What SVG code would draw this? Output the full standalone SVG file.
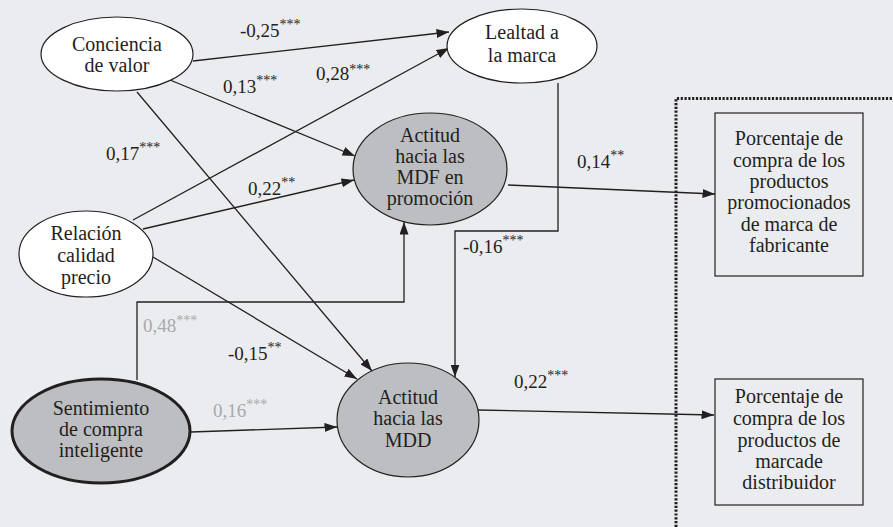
<svg xmlns="http://www.w3.org/2000/svg" width="893" height="527" viewBox="0 0 893 527" font-family="'Liberation Serif', 'DejaVu Serif', 'Times New Roman', serif">
<defs>
<style>
.bg{fill:#ebecef}
.node{stroke:#231f20;stroke-width:1.2}
.white{fill:#ffffff}
.gray{fill:#bdbec1}
.thick{stroke-width:3}
.box{fill:none;stroke:#231f20;stroke-width:1.2}
.t{font-size:20px;fill:#231f20;text-anchor:middle}
.lbl{font-size:19px;fill:#231f20}
.lg{fill:#a7a9ac}
.sup{font-size:14px}
.edge{fill:none;stroke:#231f20;stroke-width:1.3}
.dots{fill:none;stroke:#231f20;stroke-width:3;stroke-dasharray:2.2 1.6}
</style>
<marker id="arr" markerUnits="userSpaceOnUse" markerWidth="13" markerHeight="9" refX="12.5" refY="4.5" orient="auto">
<path d="M0,0 L12.5,4.5 L0,9 z" fill="#231f20"/>
</marker>
</defs>
<rect class="bg" x="0" y="0" width="893" height="527"/>

<path class="dots" d="M676,527 L676,98.5 L893,98.5"/>

<g id="connectors">
<path class="edge" marker-end="url(#arr)" d="M193,61 L449,32"/>
<path class="edge" marker-end="url(#arr)" d="M133,220 L449,48"/>
<path class="edge" marker-end="url(#arr)" d="M170,80 L355,156"/>
<path class="edge" marker-end="url(#arr)" d="M143,229 L354,180"/>
<path class="edge" marker-end="url(#arr)" d="M137,92 L372,371"/>
<path class="edge" marker-end="url(#arr)" d="M153,257 L357,379"/>
<path class="edge" marker-end="url(#arr)" d="M137,380 L137,302 L404,302 L404,222"/>
<path class="edge" marker-end="url(#arr)" d="M191,432 L337,427"/>
<path class="edge" marker-end="url(#arr)" d="M558,83 L558,231 L455,231 L455,377"/>
<path class="edge" marker-end="url(#arr)" d="M508,185 L715,194"/>
<path class="edge" marker-end="url(#arr)" d="M478,410 L714,415"/>

<text class="lbl" x="240" y="37">-0,25<tspan class="sup" dy="-8">***</tspan></text>
<text class="lbl" x="316" y="80">0,28<tspan class="sup" dy="-6">***</tspan></text>
<text class="lbl" x="223" y="93">0,13<tspan class="sup" dy="-8">***</tspan></text>
<text class="lbl" x="106" y="160">0,17<tspan class="sup" dy="-8">***</tspan></text>
<text class="lbl" x="248" y="195">0,22<tspan class="sup" dy="-8">**</tspan></text>
<text class="lbl" x="577" y="168">0,14<tspan class="sup" dy="-8">**</tspan></text>
<text class="lbl" x="463" y="253">-0,16<tspan class="sup" dy="-8">***</tspan></text>
<text class="lbl lg" x="143" y="332">0,48<tspan class="sup" dy="-7">***</tspan></text>
<text class="lbl" x="228" y="360">-0,15<tspan class="sup" dy="-8">**</tspan></text>
<text class="lbl lg" x="213" y="417">0,16<tspan class="sup" dy="-8">***</tspan></text>
<text class="lbl" x="514" y="388">0,22<tspan class="sup" dy="-8">***</tspan></text>
</g>

<g id="conciencia">
<ellipse class="node white" cx="117" cy="54" rx="76" ry="37"/>
<text class="t" x="117" y="51">Conciencia</text>
<text class="t" x="117" y="72">de valor</text>
</g>

<g id="lealtad">
<ellipse class="node white" cx="522" cy="46" rx="75" ry="37"/>
<text class="t" x="522" y="39">Lealtad a</text>
<text class="t" x="522" y="62">la marca</text>
</g>

<g id="relacion">
<ellipse class="node white" cx="86" cy="254" rx="67" ry="43"/>
<text class="t" x="86" y="240">Relación</text>
<text class="t" x="86" y="262">calidad</text>
<text class="t" x="86" y="284">precio</text>
</g>

<g id="actitud-mdf">
<ellipse class="node gray" cx="430" cy="169" rx="77" ry="56"/>
<text class="t" x="430" y="142">Actitud</text>
<text class="t" x="430" y="163">hacia las</text>
<text class="t" x="430" y="184">MDF en</text>
<text class="t" x="430" y="205">promoción</text>
</g>

<g id="sentimiento">
<ellipse class="node gray thick" cx="101" cy="431" rx="89" ry="52"/>
<text class="t" x="101" y="415">Sentimiento</text>
<text class="t" x="101" y="436">de compra</text>
<text class="t" x="101" y="457">inteligente</text>
</g>

<g id="actitud-mdd">
<ellipse class="node gray" cx="408" cy="420" rx="71" ry="57"/>
<text class="t" x="408" y="404">Actitud</text>
<text class="t" x="408" y="425">hacia las</text>
<text class="t" x="408" y="447">MDD</text>
</g>

<g id="box-fabricante">
<rect class="box" x="715" y="113" width="148" height="163"/>
<text class="t" x="789" y="145">Porcentaje de</text>
<text class="t" x="789" y="167">compra de los</text>
<text class="t" x="789" y="188">productos</text>
<text class="t" x="789" y="209">promocionados</text>
<text class="t" x="789" y="231">de marca de</text>
<text class="t" x="789" y="252">fabricante</text>
</g>

<g id="box-distribuidor">
<rect class="box" x="715" y="379" width="148" height="126"/>
<text class="t" x="789" y="403">Porcentaje de</text>
<text class="t" x="789" y="425">compra de los</text>
<text class="t" x="789" y="447">productos de</text>
<text class="t" x="789" y="468">marcade</text>
<text class="t" x="789" y="489">distribuidor</text>
</g>
</svg>
